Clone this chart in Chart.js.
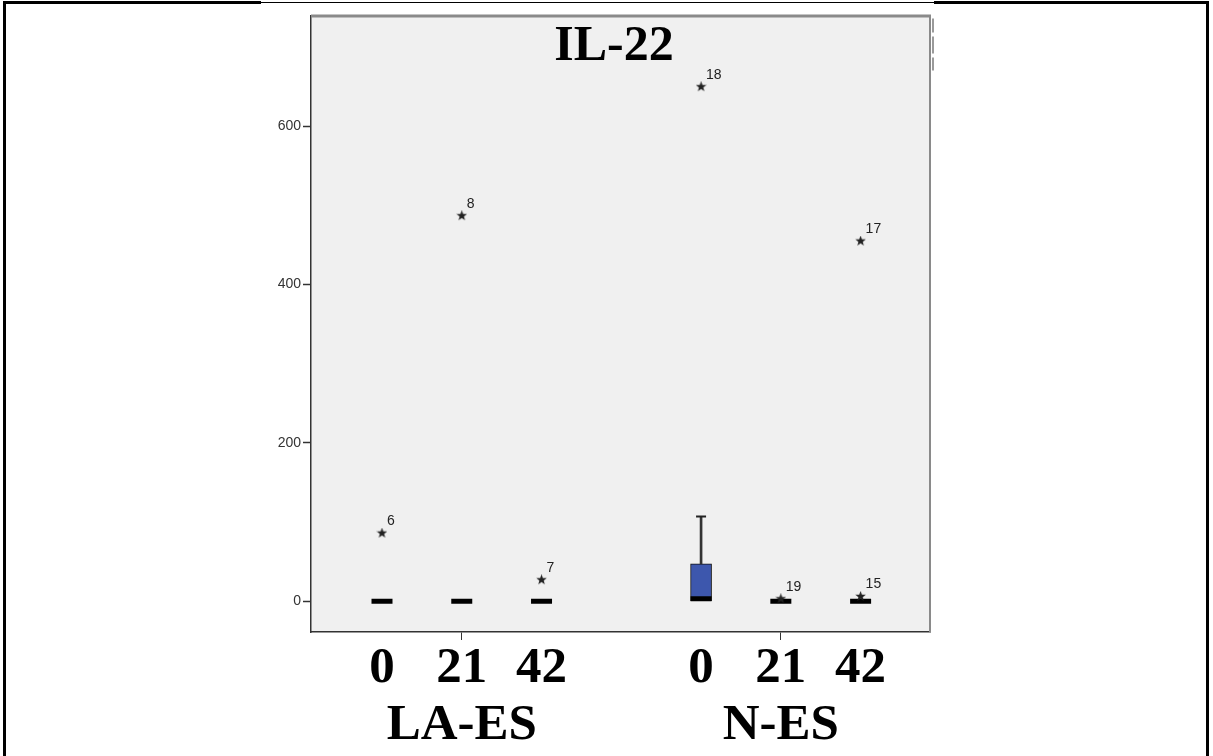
<!DOCTYPE html>
<html>
<head>
<meta charset="utf-8">
<title>IL-22</title>
<script src="https://cdn.jsdelivr.net/npm/chart.js@4.4.1/dist/chart.umd.min.js"></script>
<style>
    html, body { margin: 0; padding: 0; background: #fff; }
    #wrap { width: 1213px; height: 756px; }
</style>
</head>
<body>
<div id="wrap"><canvas id="il22Chart" width="1213" height="756"></canvas></div>
<script>
// Box positions on the x axis: two groups of three days, one empty slot between
const positions = [0, 1, 2, 4, 5, 6];
const dayLabels = ['0', '21', '42', '0', '21', '42'];
const groupLabels = ['LA-ES', 'N-ES'];
const groupCenters = [1, 5];

// Box statistics per day
const q1Values     = [0, 0, 0, 0, 0, 0];
const medianValues = [0, 0, 0, 3, 0, 0];
const q3Values     = [0, 0, 0, 47, 0, 0];
const whiskerHigh  = [0, 0, 0, 107, 0, 0];

// Extreme values and their case numbers
const outlierPos    = [0, 1, 2, 4, 5, 6, 6];
const outlierValues = [86, 487, 27, 650, 3, 455, 6];
const outlierIds    = ['6', '8', '7', '18', '19', '17', '15'];

const yTicks = [0, 200, 400, 600];

const serif = '"Liberation Serif", "Times New Roman", serif';
const sans = 'Arial, "Liberation Sans", sans-serif';

// Five-pointed star used as the marker for extremes
function makeStar(size, color) {
    const c = document.createElement('canvas');
    c.width = c.height = size;
    const g = c.getContext('2d');
    const R = size / 2, r = R * 0.42;
    g.beginPath();
    for (let k = 0; k < 10; k++) {
        const rad = k % 2 ? r : R;
        const ang = -Math.PI / 2 + k * Math.PI / 5;
        g.lineTo(R + rad * Math.cos(ang), R + rad * Math.sin(ang));
    }
    g.closePath();
    g.fillStyle = color;
    g.fill();
    return c;
}
const star = makeStar(11, '#222');

const boxData = positions
    .map((x, i) => q3Values[i] > q1Values[i] ? { x, y: [q1Values[i], q3Values[i]] } : null)
    .filter(Boolean);
const whiskerData = positions
    .map((x, i) => whiskerHigh[i] > q3Values[i] ? { x, y: [q3Values[i], whiskerHigh[i]] } : null)
    .filter(Boolean);
const capData = positions
    .map((x, i) => whiskerHigh[i] > q3Values[i] ? { x, y: whiskerHigh[i] } : null)
    .filter(Boolean);
const medianData = positions.map((x, i) => ({ x, y: medianValues[i] }));
const outlierData = outlierPos.map((x, i) => ({ x, y: outlierValues[i] }));

// Page frame, plot background and plot border
const plotFrame = {
    id: 'plotFrame',
    beforeDraw(chart) {
        const { ctx, chartArea: a } = chart;
        ctx.save();
        ctx.fillStyle = '#fff';
        ctx.fillRect(0, 0, chart.width, chart.height);
        ctx.fillStyle = '#000';
        ctx.fillRect(3, 2, 3, 754);
        ctx.fillRect(1206, 2, 3, 754);
        ctx.fillRect(3, 1, 258, 3);
        ctx.fillRect(261, 2, 673, 1);
        ctx.fillRect(934, 1, 275, 3);
        ctx.fillStyle = '#f0f0f0';
        ctx.fillRect(a.left, a.top, a.right - a.left, a.bottom - a.top);
        ctx.restore();
    },
    afterDraw(chart) {
        const { ctx, chartArea: a } = chart;
        ctx.save();
        ctx.fillStyle = '#8a8a8a';
        ctx.fillRect(a.left, a.top - 1, a.right - a.left + 1, 3);
        ctx.fillRect(a.right - 1, a.top, 2, a.bottom - a.top);
        ctx.fillStyle = '#9a9a9a';
        ctx.fillRect(a.right + 2, a.top + 3, 2, 14);
        ctx.fillRect(a.right + 2, a.top + 21, 2, 17);
        ctx.fillRect(a.right + 2, a.top + 42, 2, 13);
        ctx.restore();
    }
};

// Title inside the plot and case numbers next to the stars
const annotations = {
    id: 'annotations',
    afterDatasetsDraw(chart) {
        const { ctx } = chart;
        ctx.save();
        ctx.fillStyle = '#000';
        ctx.font = 'bold 50px ' + serif;
        ctx.textAlign = 'center';
        ctx.textBaseline = 'middle';
        ctx.fillText('IL-22', 614, 47);

        const meta = chart.getDatasetMeta(0);
        ctx.font = '14px ' + sans;
        ctx.fillStyle = '#222';
        ctx.textAlign = 'left';
        meta.data.forEach((pt, i) => {
            ctx.fillText(outlierIds[i], pt.x + 5, pt.y - 12);
        });
        ctx.restore();
    }
};

new Chart(document.getElementById('il22Chart'), {
    type: 'bar',
    data: {
        datasets: [
            {
                type: 'scatter',
                data: outlierData,
                pointStyle: star,
                pointRadius: 5,
                order: 0
            },
            {
                type: 'scatter',
                data: medianData,
                pointStyle: 'line',
                pointRadius: 10.5,
                borderWidth: 5,
                borderColor: '#000',
                order: 1
            },
            {
                type: 'scatter',
                data: capData,
                pointStyle: 'line',
                pointRadius: 5,
                borderWidth: 2,
                borderColor: '#222',
                order: 2
            },
            {
                data: whiskerData,
                grouped: false,
                barThickness: 2,
                backgroundColor: '#333',
                borderWidth: 0,
                order: 3
            },
            {
                data: boxData,
                grouped: false,
                barThickness: 21,
                backgroundColor: '#3d57ad',
                borderColor: '#111',
                borderWidth: 1,
                borderSkipped: false,
                order: 4
            }
        ]
    },
    options: {
        responsive: false,
        animation: false,
        devicePixelRatio: 1,
        layout: { padding: { left: 251, right: 283, top: 15, bottom: 0 } },
        plugins: {
            legend: { display: false },
            tooltip: { enabled: false },
            title: { display: false }
        },
        scales: {
            x: {
                type: 'linear',
                offset: false,
                min: -0.89,
                max: 6.87,
                afterBuildTicks: s => { s.ticks = positions.map(v => ({ value: v })); },
                afterFit: s => { s.height = 124; },
                grid: {
                    offset: false,
                    drawOnChartArea: false,
                    tickLength: 8,
                    tickWidth: 1,
                    tickColor: c => groupCenters.includes(c.tick && c.tick.value) ? '#333' : 'rgba(0,0,0,0)'
                },
                border: { color: '#333', width: 1.5 },
                ticks: {
                    autoSkip: false,
                    maxRotation: 0,
                    padding: 0,
                    color: '#000',
                    font: { family: serif, weight: 'bold', size: 51, lineHeight: 1.12 },
                    callback: v => {
                        const i = positions.indexOf(v);
                        const g = groupCenters.indexOf(v);
                        return g >= 0 ? [dayLabels[i], groupLabels[g]] : dayLabels[i];
                    }
                }
            },
            y: {
                min: -39,
                max: 740,
                afterBuildTicks: s => { s.ticks = yTicks.map(v => ({ value: v })); },
                afterFit: s => { s.width = 60; },
                grid: { drawOnChartArea: false, tickLength: 8, tickWidth: 1.5, tickColor: '#333' },
                border: { color: '#333', width: 1.5 },
                ticks: { padding: 2, color: '#333', font: { family: sans, size: 14 } }
            }
        }
    },
    plugins: [plotFrame, annotations]
});
</script>
</body>
</html>
